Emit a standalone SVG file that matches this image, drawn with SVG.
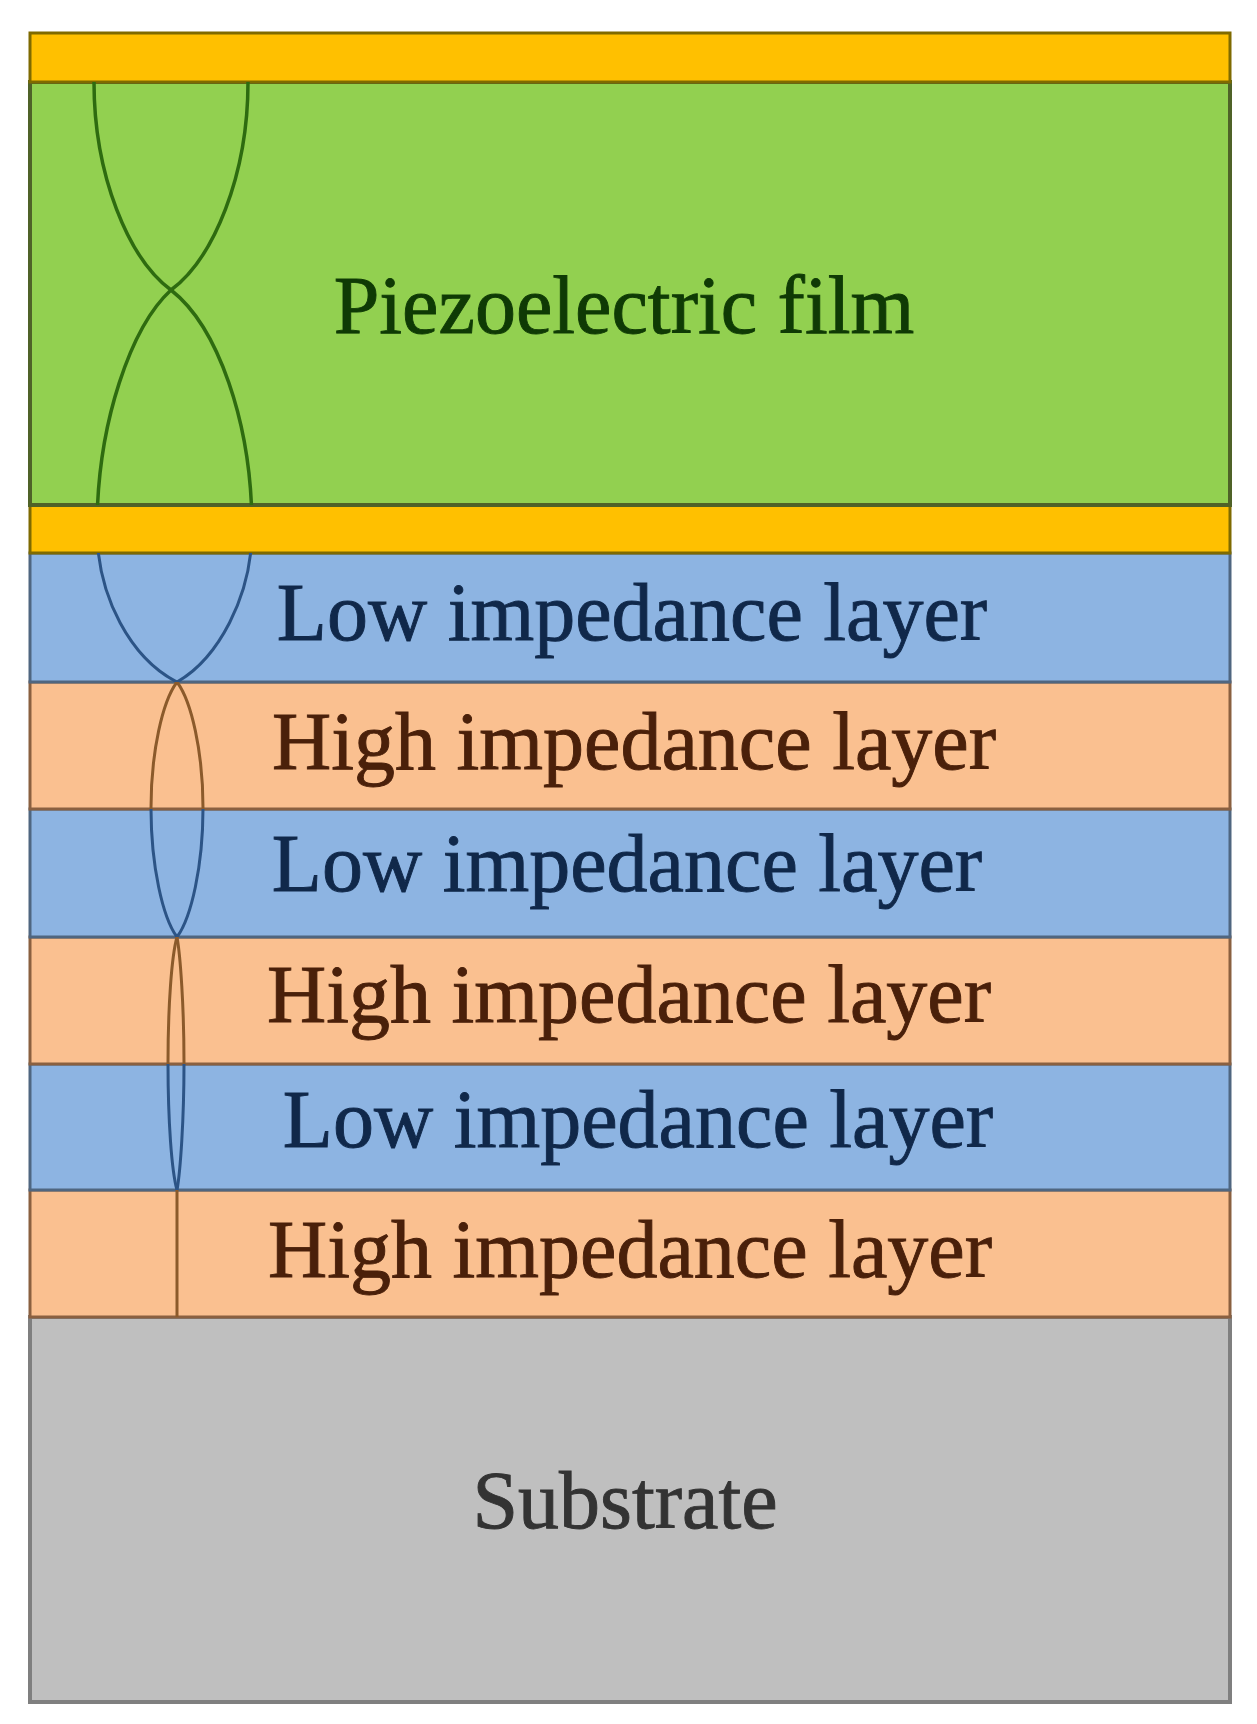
<svg xmlns="http://www.w3.org/2000/svg" xmlns:xlink="http://www.w3.org/1999/xlink" width="1257" height="1724" viewBox="0 0 1257 1724">
<style>
.lbl{font-family:"Liberation Serif","Times New Roman",serif;font-size:82px;text-anchor:middle;stroke-width:0.9px}
.gold{fill:#FFC000;stroke:#7f6a00;stroke-width:3}
.green{fill:#92D050;stroke:#4f6228;stroke-width:4}
.blue{fill:#8DB4E2;stroke:#4f6680;stroke-width:3}
.orange{fill:#FAC090;stroke:#8a6040;stroke-width:3}
.gray{fill:#BFBFBF;stroke:#7f7f7f;stroke-width:4}
.wave{fill:none}
</style>
<defs>
<clipPath id="cG"><rect x="30" y="82" width="1200" height="423"/></clipPath>
<clipPath id="cB"><rect x="30" y="553" width="1200" height="129"/><rect x="30" y="809" width="1200" height="128"/><rect x="30" y="1064" width="1200" height="126"/></clipPath>
<clipPath id="cO"><rect x="30" y="682" width="1200" height="127"/><rect x="30" y="937" width="1200" height="127"/><rect x="30" y="1190" width="1200" height="127"/></clipPath>
<g id="wavePaths">
<path d="M94,82 C94,175.6 128.6,258.8 171,290 C217.1,325.9 252,421.4 252,529 C252,597.9 217.1,659 177,682 C162.7,700.9 151,751.3 151,808 C151,866 162.7,917.65 177,937 C180.4,955.9 184,1006.3 184,1063 C184,1120.2 180.4,1171 177,1190 L177,1317"/>
<path d="M248,82 C248,175.6 213.4,258.8 171,290 C131.9,325.9 97,421.4 97,529 C97,597.9 131.9,659 177,682 C191.3,700.9 203,751.3 203,808 C203,866 191.3,917.65 177,937 C171.6,955.9 168,1006.3 168,1063 C168,1120.2 171.6,1171 177,1190"/>
</g>
</defs>
<rect width="1257" height="1724" fill="#ffffff"/>
<g id="substrate">
<rect class="gray" x="30" y="1317" width="1200" height="385"/>
<text class="lbl" x="625" y="1528" fill="#333333" stroke="#333333">Substrate</text>
</g>
<g id="high3">
<rect class="orange" x="30" y="1190" width="1200" height="127"/>
<text class="lbl" x="630" y="1277" fill="#4a200a" stroke="#4a200a">High impedance layer</text>
</g>
<g id="low3">
<rect class="blue" x="30" y="1064" width="1200" height="126"/>
<text class="lbl" x="638" y="1147" fill="#10284a" stroke="#10284a">Low impedance layer</text>
</g>
<g id="high2">
<rect class="orange" x="30" y="937" width="1200" height="127"/>
<text class="lbl" x="629" y="1022" fill="#4a200a" stroke="#4a200a">High impedance layer</text>
</g>
<g id="low2">
<rect class="blue" x="30" y="809" width="1200" height="128"/>
<text class="lbl" x="627" y="891" fill="#10284a" stroke="#10284a">Low impedance layer</text>
</g>
<g id="high1">
<rect class="orange" x="30" y="682" width="1200" height="127"/>
<text class="lbl" x="634" y="769" fill="#4a200a" stroke="#4a200a">High impedance layer</text>
</g>
<g id="low1">
<rect class="blue" x="30" y="553" width="1200" height="129"/>
<text class="lbl" x="632" y="640" fill="#10284a" stroke="#10284a">Low impedance layer</text>
</g>
<g id="bottomElectrode">
<rect class="gold" x="30" y="505" width="1200" height="48"/>
</g>
<g id="piezo">
<rect class="green" x="30" y="82" width="1200" height="423"/>
<text class="lbl" x="624" y="333" fill="#0f3a05" stroke="#0f3a05">Piezoelectric film</text>
</g>
<g id="topElectrode">
<rect class="gold" x="30" y="33" width="1200" height="49"/>
</g>
<g id="connectors">
<use xlink:href="#wavePaths" class="wave" clip-path="url(#cG)" stroke="#2e6b10" stroke-width="3.5"/>
<use xlink:href="#wavePaths" class="wave" clip-path="url(#cB)" stroke="#2c5486" stroke-width="3"/>
<use xlink:href="#wavePaths" class="wave" clip-path="url(#cO)" stroke="#8b5a2b" stroke-width="3"/>
</g>
</svg>
